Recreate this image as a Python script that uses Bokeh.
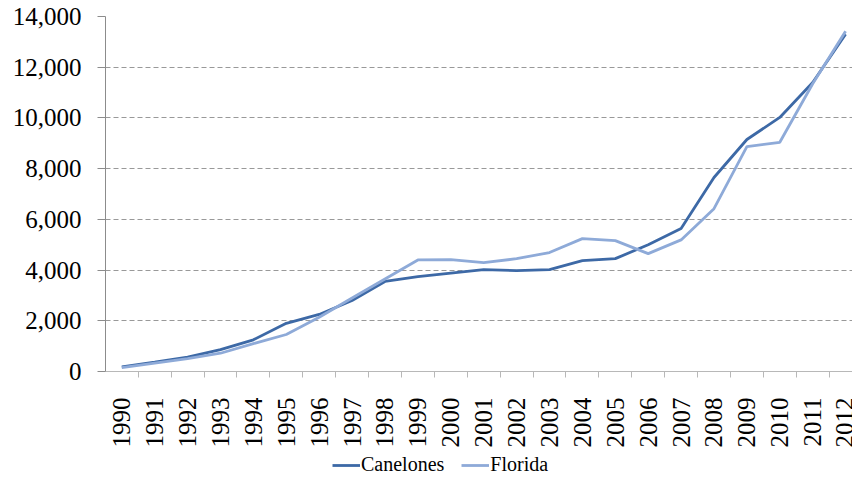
import math
from bokeh.plotting import figure
from bokeh.layouts import column
from bokeh.models import (Range1d, FixedTicker, NumeralTickFormatter, Legend, LegendItem)
from bokeh.embed import file_html
from bokeh.resources import INLINE

years = ["1990", "1991", "1992", "1993", "1994", "1995", "1996", "1997", "1998", "1999",
         "2000", "2001", "2002", "2003", "2004", "2005", "2006", "2007", "2008", "2009",
         "2010", "2011", "2012"]
canelones = [180, 370, 565, 860, 1250, 1900, 2250, 2800, 3550, 3740, 3880, 4020, 3980, 4020,
             4370, 4450, 5000, 5640, 7650, 9150, 10020, 11400, 13300]
florida = [150, 330, 510, 720, 1100, 1460, 2140, 2900, 3650, 4400, 4410, 4290, 4450, 4690,
           5240, 5160, 4650, 5190, 6420, 8870, 9040, 11350, 13420]
y_ticks = [0, 2000, 4000, 6000, 8000, 10000, 12000, 14000]
series_names = ["Canelones", "Florida"]
series_colors = ["#3D69A6", "#8EAAD8"]

idx = list(range(len(years)))

SERIF = "Liberation Serif"

p = figure(width=852, height=451, output_backend="svg", toolbar_location=None,
           x_range=Range1d(-0.495, 22.21), y_range=Range1d(0, 14000),
           min_border_left=105, min_border_right=0, min_border_top=16, min_border_bottom=80)
p.outline_line_color = None
p.background_fill_color = "white"
p.border_fill_color = "white"

# x axis
p.xaxis.ticker = FixedTicker(ticks=idx, minor_ticks=[i - 0.5 for i in idx] + [len(idx) - 0.5])
p.xaxis.major_label_overrides = {i: y for i, y in zip(idx, years)}
p.xaxis.major_label_orientation = math.pi / 2
p.xaxis.major_tick_line_color = None
p.xaxis.major_tick_out = 0
p.xaxis.major_tick_in = 0
p.xaxis.minor_tick_out = 6
p.xaxis.minor_tick_in = 0
p.xaxis.minor_tick_line_color = "#B8B8B8"
p.xaxis.axis_line_color = "#B8B8B8"
p.xaxis.major_label_text_font = SERIF
p.xaxis.major_label_text_font_size = "25px"
p.xaxis.major_label_text_color = "black"
p.xaxis.major_label_standoff = 20
p.xgrid.grid_line_color = None

# y axis
p.yaxis.ticker = FixedTicker(ticks=y_ticks)
p.yaxis.formatter = NumeralTickFormatter(format="0,0")
p.yaxis.major_tick_out = 8
p.yaxis.major_tick_in = 0
p.yaxis.minor_tick_line_color = None
p.yaxis.major_tick_line_color = "#8C8C8C"
p.yaxis.axis_line_color = "#8C8C8C"
p.yaxis.major_label_text_font = SERIF
p.yaxis.major_label_text_font_size = "25px"
p.yaxis.major_label_text_color = "black"
p.yaxis.major_label_standoff = 16
p.ygrid.ticker = FixedTicker(ticks=y_ticks[1:])
p.ygrid.grid_line_color = "#999999"
p.ygrid.grid_line_dash = "5 3"
p.ygrid.grid_line_width = 1

p.line(idx, canelones, line_color=series_colors[0], line_width=2.8)
p.line(idx, florida, line_color=series_colors[1], line_width=2.8)

# legend strip below the chart (frames of a column are aligned, so x is from x=105)
lg = figure(width=852, height=26, output_backend="svg", toolbar_location=None,
            x_range=Range1d(0, 1), y_range=Range1d(0, 1),
            min_border_left=0, min_border_right=0, min_border_top=0, min_border_bottom=0)
lg.axis.visible = False
lg.grid.grid_line_color = None
lg.outline_line_color = None
lg.border_fill_color = "white"
items = []
for name, col in zip(series_names, series_colors):
    r = lg.line([5, 6], [5, 6], line_color=col, line_width=2.8)
    items.append(LegendItem(label=name, renderers=[r]))

legend = Legend(items=items, orientation="horizontal", location=(227, 1))
legend.label_text_font = SERIF
legend.label_text_font_size = "20px"
legend.label_text_color = "black"
legend.glyph_width = 28
legend.glyph_height = 20
legend.label_standoff = 1
legend.spacing = 17
legend.padding = 0
legend.margin = 0
legend.border_line_color = None
legend.background_fill_alpha = 0
lg.add_layout(legend)

layout = column(p, lg, spacing=0)
open("out.html", "w").write(file_html(layout, INLINE))
